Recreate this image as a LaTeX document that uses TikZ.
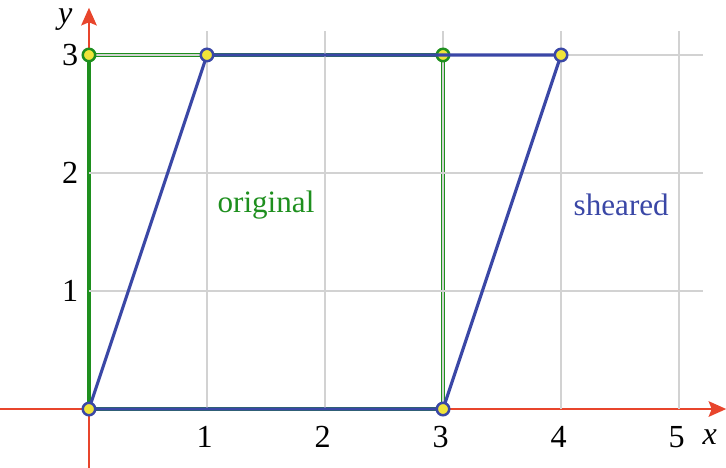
\documentclass[tikz,border=0pt]{standalone}
\usepackage{fontspec}
\setmainfont{Liberation Serif}
\usetikzlibrary{arrows.meta, positioning}
\definecolor{axisred}{HTML}{E8452C}
\definecolor{origgreen}{HTML}{1E8F1E}
\definecolor{shearblue}{HTML}{3A47A6}
\definecolor{ptyellow}{HTML}{F0E43A}
\definecolor{gridgray}{HTML}{D2D2D2}

\begin{document}
\begin{tikzpicture}[
    x=2cm, y=2cm,
    axis/.style={-{Stealth[length=8.5pt, width=7.5pt, inset=1.5pt]}, line width=1pt, axisred},
    gridline/.style={line width=0.7pt, gridgray},
    orig/.style={line width=1.6pt, origgreen, line join=round},
    shear/.style={line width=1.5pt, shearblue, line join=round},
    opt/.style={circle, draw=origgreen, line width=1.2pt, fill=ptyellow, inner sep=0pt, minimum size=6pt},
    spt/.style={circle, draw=shearblue, line width=1.2pt, fill=ptyellow, inner sep=0pt, minimum size=6pt},
    tick/.style={font=\fontsize{15.5}{18}\selectfont, inner sep=0pt},
    lbl/.style={font=\fontsize{15}{18}\selectfont, inner sep=0pt}
]
    \useasboundingbox (-0.754,-0.492) rectangle (5.398,3.466);

    % Axes
    \coordinate (xl) at (-0.76,0);
    \coordinate (xr) at (5.40,0);
    \coordinate (yb) at (0,-0.50);
    \coordinate (yt) at (0,3.40);
    \draw[axis] (xl) -- (xr);
    \draw[axis] (yb) -- (yt);

    % Original square
    \coordinate (a) at (0,0);
    \coordinate (b) at (3,0);
    \coordinate (c) at (3,3);
    \coordinate (d) at (0,3);
    \draw[orig] (a) -- (b) -- (c) -- (d) -- cycle;

    % Grid
    \foreach \i in {1,...,5}
        \draw[gridline] (\i,0) -- (\i,3.2);
    \foreach \j in {1,2,3}
        \draw[gridline] (0,\j) -- (5.2,\j);

    % Original corners
    \node[opt] (dpt) at (d) {};
    \node[opt] (cpt) at (c) {};

    % Sheared shape
    \coordinate (p) at (1,3);
    \coordinate (q) at (4,3);
    \draw[shear] (a) -- (b) -- (q) -- (p) -- cycle;
    \node[spt] (apt) at (a) {};
    \node[spt] (bpt) at (b) {};
    \node[spt] (ppt) at (p) {};
    \node[spt] (qpt) at (q) {};

    % Tick labels
    \foreach \i in {1,...,5}
        \node[tick] (xt\i) at (\i-0.02,-0.24) {\i};
    \foreach \j in {1,2,3}
        \node[tick] (yt\j) at (-0.16,\j) {\j};
    \node[tick, font=\fontsize{15.5}{18}\selectfont\itshape] (xlab) at (5.26,-0.24) {x};
    \node[tick, font=\fontsize{15.5}{18}\selectfont\itshape] (ylab) at (-0.2,3.30) {y};

    % Labels
    \node[lbl, origgreen] (olab) at (1.50,1.73) {original};
    \node[lbl, shearblue] (slab) at (4.51,1.73) {sheared};
\end{tikzpicture}
\end{document}
